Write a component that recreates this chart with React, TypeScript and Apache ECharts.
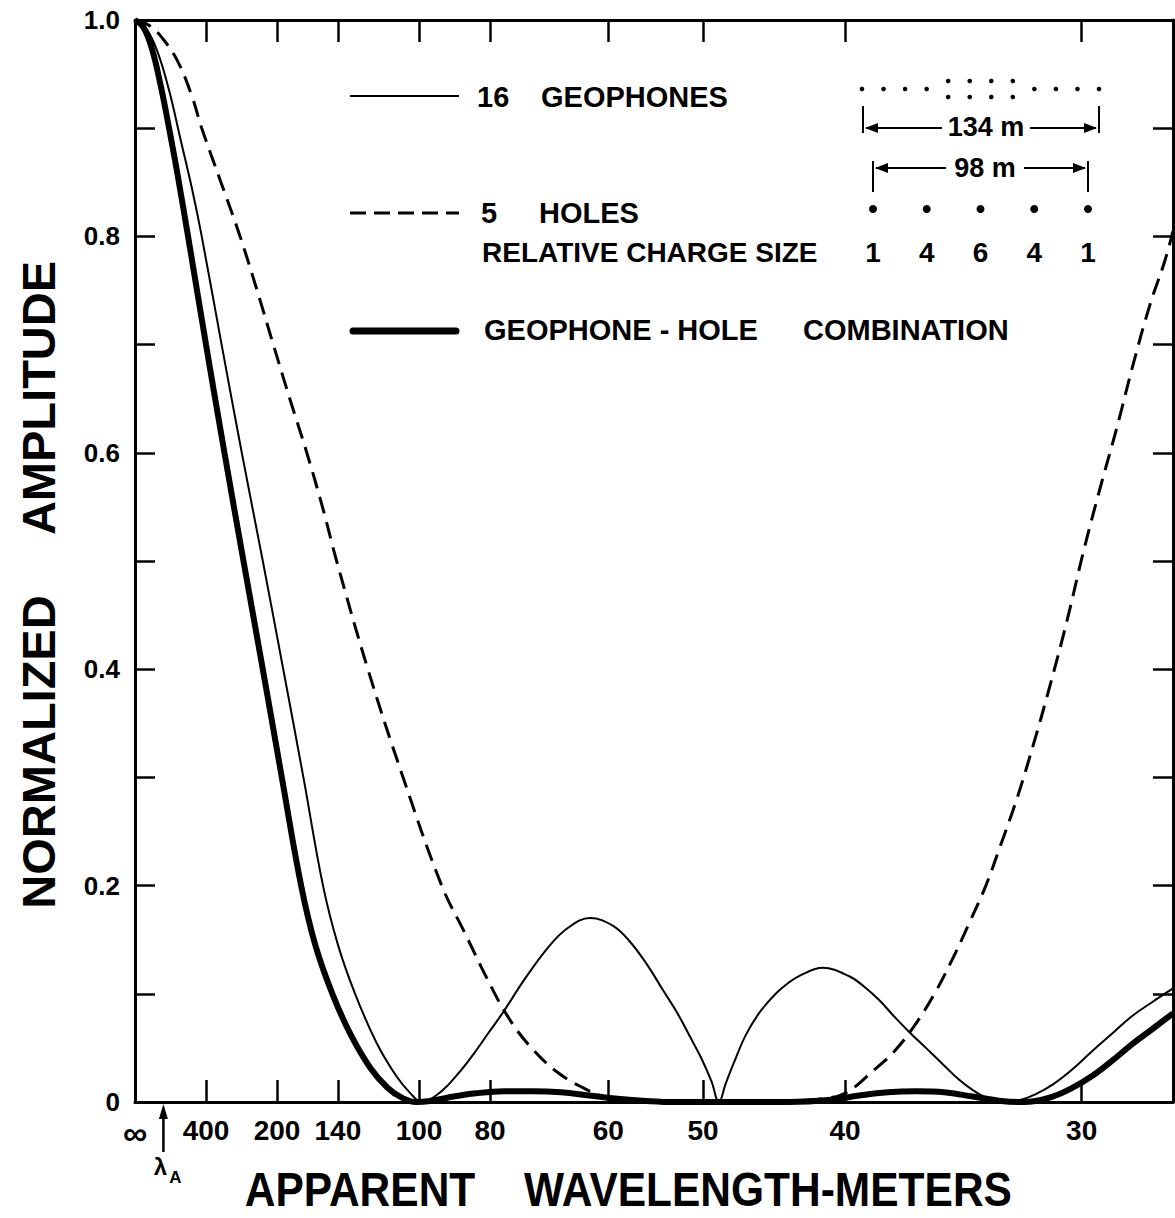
import React, { useEffect, useRef } from "react";
import * as echarts from "echarts";

// Apparent wavelength (m) tick labels on the x axis; axis itself is linear in wavenumber (1/km)
const wavelengthTicks = [400, 200, 140, 100, 80, 60, 50, 40, 30];
const X_MAX = 36.55; // wavenumber at right edge (1/km)
const lambdaA = 1000; // apparent wavelength marked by the arrow (m)

// 16 geophones (thin solid)
const geophoneK = [0, 0.4, 0.8, 1.2, 1.6, 2.0, 2.35, 3.05, 3.76, 4.5, 5.22, 5.93, 6.62, 7.15, 7.75, 8.5, 9.2, 9.7, 10.1, 10.6, 11.07, 11.5, 11.94, 12.45, 12.99, 13.68, 14.55, 15.25, 16.03, 16.82, 17.4, 18.03, 18.6, 19.08, 19.55, 19.95, 20.3, 20.56, 20.8, 21.1, 21.51, 22.0, 22.56, 23.0, 23.43, 24.21, 25.17, 25.7, 26.21, 26.7, 27.25, 27.85, 28.48, 29.0, 29.5, 29.9, 30.3, 30.7, 31.2, 31.7, 32.31, 33.0, 33.7, 34.4, 35.09, 35.8, 36.55];
const geophoneAmp = [1, 0.992, 0.97, 0.935, 0.89, 0.845, 0.8, 0.7, 0.6, 0.5, 0.4, 0.3, 0.2, 0.145, 0.1, 0.055, 0.024, 0.008, 0, 0.006, 0.017, 0.03, 0.045, 0.064, 0.084, 0.112, 0.143, 0.161, 0.17, 0.163, 0.149, 0.127, 0.103, 0.083, 0.06, 0.04, 0.019, 0, 0.017, 0.037, 0.062, 0.083, 0.1, 0.11, 0.117, 0.124, 0.116, 0.106, 0.094, 0.08, 0.065, 0.05, 0.034, 0.021, 0.011, 0.005, 0.001, 0, 0.002, 0.007, 0.016, 0.03, 0.047, 0.063, 0.079, 0.092, 0.105];

// 5 holes (dashed)
const holesK = [0, 0.5, 1.0, 1.5, 2.0, 2.35, 3.0, 3.7, 4.3, 4.87, 5.45, 6.05, 6.6, 7.1, 8.2, 9.44, 10.8, 11.6, 12.38, 13.08, 13.86, 14.9, 15.94, 16.73, 17.5, 18.5, 20.4, 22.3, 23.3, 24.2, 25.0, 26.04, 26.74, 27.43, 28.13, 28.82, 29.35, 29.96, 30.46, 31.05, 31.63, 32.22, 32.81, 33.39, 33.98, 34.57, 35.15, 35.74, 36.27, 36.55];
const holesAmp = [1, 0.995, 0.982, 0.962, 0.93, 0.9, 0.852, 0.8, 0.75, 0.7, 0.65, 0.6, 0.55, 0.5, 0.4, 0.3, 0.2, 0.157, 0.115, 0.081, 0.053, 0.027, 0.011, 0.003, 0.001, 0, 0, 0, 0.001, 0.003, 0.008, 0.03, 0.047, 0.07, 0.099, 0.134, 0.164, 0.2, 0.236, 0.28, 0.33, 0.385, 0.444, 0.508, 0.567, 0.623, 0.682, 0.737, 0.778, 0.805];

// Geophone-hole combination (thick)
const comboK = [0, 0.3, 0.6, 0.9, 1.2, 1.5, 1.9, 2.5, 3.15, 3.82, 4.5, 5.17, 5.85, 6.35, 6.95, 7.6, 8.3, 8.9, 9.4, 9.9, 10.4, 11, 12, 13, 14, 15, 16, 17, 18, 19, 21, 23, 24.5, 25.5, 26.5, 27.5, 28.5, 29.5, 30.5, 31.3, 32.31, 33.0, 33.7, 34.4, 35.09, 35.8, 36.55];
const comboAmp = [1, 0.993, 0.973, 0.94, 0.9, 0.857, 0.795, 0.7, 0.6, 0.5, 0.4, 0.3, 0.2, 0.145, 0.1, 0.062, 0.031, 0.013, 0.004, 0, 0.001, 0.004, 0.008, 0.01, 0.01, 0.009, 0.006, 0.003, 0.001, 0, 0, 0, 0.002, 0.006, 0.009, 0.01, 0.009, 0.005, 0.001, 0, 0.005, 0.013, 0.024, 0.038, 0.053, 0.067, 0.082];

// Inset schematic
const geophonesPerStation = [1, 1, 1, 1, 2, 2, 2, 2, 1, 1, 1, 1];
const chargeSizes = [1, 4, 6, 4, 1];

const FONT = '"Liberation Sans", Arial, sans-serif';
const font = (size: number) => `bold ${size}px ${FONT}`;

function pairs(k: number[], a: number[]) {
  return k.map((v, i) => [v, a[i]]);
}

function txt(text: string, x: number, y: number, size: number, align = "left", extra: any = {}) {
  return {
    type: "text",
    x,
    y,
    ...extra,
    style: {
      text,
      font: font(size),
      fill: "#000",
      align,
      verticalAlign: "middle",
      textAlign: align,
      textVerticalAlign: "middle",
    },
  };
}

function line(x1: number, y1: number, x2: number, y2: number, w: number, extra: any = {}) {
  return {
    type: "line",
    shape: { x1, y1, x2, y2 },
    style: { stroke: "#000", lineWidth: w, ...extra },
  };
}

function head(x: number, y: number, dir: number) {
  // dir: -1 left, 1 right, 0 up
  if (dir === 0) {
    return { type: "polygon", shape: { points: [[x, y], [x - 4.5, y + 15], [x + 4.5, y + 15]] }, style: { fill: "#000" } };
  }
  return { type: "polygon", shape: { points: [[x, y], [x - dir * 13, y - 5], [x - dir * 13, y + 5]] }, style: { fill: "#000" } };
}

export default function App() {
  const ref = useRef<HTMLDivElement>(null);
  useEffect(() => {
    const chart = echarts.init(ref.current!, null, { renderer: "svg" });
    const tickK = wavelengthTicks.map((w) => 1000 / w);
    const labelK = [0, ...tickK];
    const axisLine = { show: true, onZero: false, lineStyle: { color: "#000", width: 3 } };

    const graphic: any[] = [];
    // legend
    graphic.push(line(350, 96, 459, 96, 2));
    graphic.push(txt("16", 477, 97, 29));
    graphic.push(txt("GEOPHONES", 541, 97, 29));
    graphic.push(line(350, 213, 459, 213, 3, { lineDash: [16, 8] }));
    graphic.push(txt("5", 481, 213, 29));
    graphic.push(txt("HOLES", 539, 213, 29));
    graphic.push(txt("RELATIVE CHARGE SIZE", 482, 252, 28));
    graphic.push(line(353, 331, 456, 331, 7, { lineCap: "round" }));
    graphic.push(txt("GEOPHONE - HOLE", 484, 330, 29));
    graphic.push(txt("COMBINATION", 803, 330, 29));

    // geophone layout
    const gx0 = 862, gx1 = 1099;
    const gstep = (gx1 - gx0) / (geophonesPerStation.length - 1);
    geophonesPerStation.forEach((n, i) => {
      const x = gx0 + i * gstep;
      const ys = n === 1 ? [89] : [81, 97];
      ys.forEach((y) => graphic.push({ type: "circle", shape: { cx: x, cy: y, r: 2.3 }, style: { fill: "#000" } }));
    });
    // 134 m dimension
    graphic.push(line(863, 106, 863, 133, 2));
    graphic.push(line(1099, 106, 1099, 133, 2));
    graphic.push(line(866, 128, 942, 128, 2));
    graphic.push(head(865, 128, -1));
    graphic.push(line(1030, 128, 1096, 128, 2));
    graphic.push(head(1097, 128, 1));
    graphic.push(txt("134 m", 986, 127, 27, "center"));
    // 98 m dimension
    const hx0 = 873, hx1 = 1088;
    graphic.push(line(hx0, 161, hx0, 192, 2));
    graphic.push(line(hx1, 161, hx1, 192, 2));
    graphic.push(line(876, 168, 946, 168, 2));
    graphic.push(head(875, 168, -1));
    graphic.push(line(1024, 168, 1085, 168, 2));
    graphic.push(head(1086, 168, 1));
    graphic.push(txt("98 m", 985, 168, 27, "center"));
    const hstep = (hx1 - hx0) / (chargeSizes.length - 1);
    chargeSizes.forEach((c, i) => {
      const x = hx0 + i * hstep;
      graphic.push({ type: "circle", shape: { cx: x, cy: 209, r: 4 }, style: { fill: "#000" } });
      graphic.push(txt(String(c), x, 252, 28, "center"));
    });

    // axis titles
    graphic.push(txt("NORMALIZED", 38, 752, 47, "center", { rotation: Math.PI / 2 }));
    graphic.push(txt("AMPLITUDE", 38, 398, 47, "center", { rotation: Math.PI / 2 }));
    graphic.push(txt("APPARENT", 360, 1190, 42.5, "center", { scaleY: 1.12 }));
    graphic.push(txt("WAVELENGTH-METERS", 768, 1190, 42.5, "center", { scaleY: 1.12 }));

    const option: any = {
      animation: false,
      backgroundColor: "#fff",
      grid: { left: 135, right: 2, top: 20, bottom: 116, containLabel: false },
      xAxis: [
        {
          type: "value",
          position: "bottom",
          min: 0,
          max: X_MAX,
          axisLine,
          axisTick: { show: true, inside: true, length: 22, customValues: tickK, lineStyle: { color: "#000", width: 2.5 } },
          axisLabel: {
            show: true,
            customValues: labelK,
            margin: 14,
            color: "#000",
            fontSize: 28,
            fontWeight: "bold",
            fontFamily: FONT,
            formatter: (v: number) => (v === 0 ? "{inf|∞}" : String(Math.round(1000 / v))),
            rich: { inf: { fontSize: 34, fontWeight: "bold", fontFamily: FONT, color: "#000" } },
          },
          splitLine: { show: false },
        },
        {
          type: "value",
          position: "top",
          min: 0,
          max: X_MAX,
          axisLine,
          axisTick: { show: true, inside: true, length: 22, customValues: tickK, lineStyle: { color: "#000", width: 2.5 } },
          axisLabel: { show: false, customValues: tickK },
          splitLine: { show: false },
        },
      ],
      yAxis: [
        {
          type: "value",
          position: "left",
          min: 0,
          max: 1,
          interval: 0.1,
          axisLine,
          axisTick: { show: true, inside: true, length: 20, lineStyle: { color: "#000", width: 2.5 } },
          axisLabel: {
            margin: 15,
            color: "#000",
            fontSize: 26,
            fontWeight: "bold",
            fontFamily: FONT,
            formatter: (v: number) => {
              const t = Math.round(v * 10);
              if (t % 2 !== 0) return "";
              return t === 0 ? "0" : (t / 10).toFixed(1);
            },
          },
          splitLine: { show: false },
        },
        {
          type: "value",
          position: "right",
          min: 0,
          max: 1,
          interval: 0.1,
          axisLine,
          axisTick: { show: true, inside: true, length: 20, lineStyle: { color: "#000", width: 2.5 } },
          axisLabel: { show: false },
          splitLine: { show: false },
        },
      ],
      series: [
        {
          name: "16 GEOPHONES",
          type: "line",
          data: pairs(geophoneK, geophoneAmp),
          showSymbol: false,
          smooth: 0.4,
          lineStyle: { color: "#000", width: 2 },
        },
        {
          name: "5 HOLES",
          type: "line",
          data: pairs(holesK, holesAmp),
          showSymbol: false,
          smooth: 0.4,
          lineStyle: { color: "#000", width: 3, type: [17, 9] },
        },
        {
          name: "GEOPHONE-HOLE COMBINATION",
          type: "line",
          data: pairs(comboK, comboAmp),
          showSymbol: false,
          smooth: 0.4,
          lineStyle: { color: "#000", width: 6 },
        },
      ],
      graphic,
    };
    chart.setOption(option);

    // lambda_A arrow below the axis
    const px = chart.convertToPixel({ xAxisIndex: 0 }, 1000 / lambdaA) as number;
    const extra: any[] = [
      line(px, 1117, px, 1152, 2.5),
      head(px, 1104, 0),
      txt("λ", px - 3, 1166, 24, "center"),
      txt("A", px + 12, 1177, 17, "center"),
    ];
    chart.setOption({ graphic: [...graphic, ...extra] });

    return () => chart.dispose();
  }, []);

  return <div ref={ref} style={{ position: "absolute", left: 0, top: 0, width: 1175, height: 1218 }} />;
}
